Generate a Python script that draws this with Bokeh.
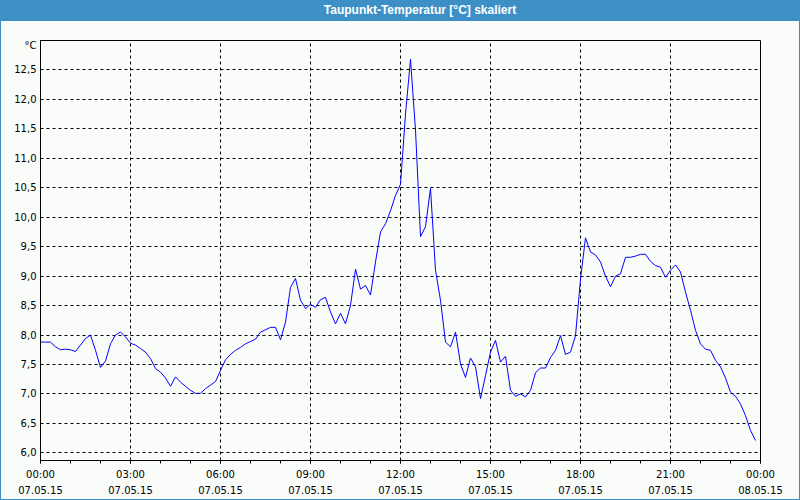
from bokeh.plotting import figure
from bokeh.models import Range1d, FixedTicker, Div, ColumnDataSource
from bokeh.layouts import column
from bokeh.embed import file_html
from bokeh.resources import INLINE

TITLE = "Taupunkt-Temperatur [°C] skaliert"
UNIT_LABEL = "°C"

# sampling: every 10 minutes on 07.05.15
minutes = list(range(0, 1440, 10))

# dew point temperature [°C]
dewpoint = [
    7.88, 7.88, 7.88, 7.80, 7.75, 7.76, 7.75, 7.72, 7.83, 7.94,
    8.00, 7.74, 7.45, 7.56, 7.85, 8.00, 8.05, 7.97, 7.86, 7.83,
    7.77, 7.71, 7.60, 7.43, 7.37, 7.27, 7.13, 7.29, 7.20, 7.13,
    7.06, 7.01, 7.01, 7.09, 7.15, 7.21, 7.40, 7.58, 7.67, 7.74,
    7.79, 7.85, 7.89, 7.93, 8.05, 8.09, 8.13, 8.13, 7.92, 8.22,
    8.81, 8.96, 8.59, 8.45, 8.52, 8.47, 8.60, 8.64, 8.39, 8.19,
    8.37, 8.19, 8.50, 9.12, 8.78, 8.84, 8.68, 9.24, 9.75, 9.89,
    10.11, 10.37, 10.56, 11.75, 12.68, 11.48, 9.67, 9.84, 10.49, 9.10,
    8.59, 7.88, 7.80, 8.05, 7.51, 7.28, 7.61, 7.46, 6.92, 7.31,
    7.71, 7.91, 7.54, 7.64, 7.06, 6.96, 7.00, 6.95, 7.06, 7.36,
    7.44, 7.44, 7.62, 7.74, 7.99, 7.67, 7.71, 7.99, 8.95, 9.65,
    9.41, 9.36, 9.24, 9.00, 8.82, 9.00, 9.04, 9.32, 9.32, 9.34,
    9.37, 9.37, 9.25, 9.18, 9.15, 8.98, 9.10, 9.19, 9.07, 8.73,
    8.42, 8.08, 7.85, 7.76, 7.74, 7.57, 7.46, 7.27, 7.03, 6.96,
    6.83, 6.63, 6.38, 6.21,
]

x_tick_hours = [0, 3, 6, 9, 12, 15, 18, 21, 24]
x_tick_labels = [
    "00:00\n07.05.15", "03:00\n07.05.15", "06:00\n07.05.15",
    "09:00\n07.05.15", "12:00\n07.05.15", "15:00\n07.05.15",
    "18:00\n07.05.15", "21:00\n07.05.15", "00:00\n08.05.15",
]
x_minor_hours = list(range(0, 25))
x_grid_hours = [3, 6, 9, 12, 15, 18, 21]

y_ticks = [6.0, 6.5, 7.0, 7.5, 8.0, 8.5, 9.0, 9.5, 10.0, 10.5, 11.0, 11.5, 12.0, 12.5]
y_tick_labels = ["6,0", "6,5", "7,0", "7,5", "8,0", "8,5", "9,0", "9,5",
                 "10,0", "10,5", "11,0", "11,5", "12,0", "12,5"]
unit_tick = 12.91

BG = "#fafcfa"
BAR = "#3d90c5"

hours = [m / 60 for m in minutes]
src = ColumnDataSource(dict(h=hours, t=dewpoint))

p = figure(
    width=800, height=479,
    x_range=Range1d(0, 24), y_range=Range1d(5.87, 13.0),
    output_backend="svg", toolbar_location=None,
    min_border_left=40, min_border_right=40,
    min_border_top=19, min_border_bottom=40,
    background_fill_color=BG, border_fill_color=BG, border_fill_alpha=0.0,
    outline_line_color="black", outline_line_width=1,
)
p.margin = 0

p.line("h", "t", source=src, line_color="#0000ff", line_width=1)

# x axis
xa = p.xaxis[0]
xa.ticker = FixedTicker(ticks=x_tick_hours, minor_ticks=x_minor_hours)
xa.major_label_overrides = {h: lab for h, lab in zip(x_tick_hours, x_tick_labels)}
xa.major_tick_in = 0
xa.major_tick_out = 3
xa.minor_tick_in = 0
xa.minor_tick_out = 3
xa.major_label_standoff = 5
xa.major_label_text_font = "DejaVu Sans"
xa.major_label_text_font_size = "10px"
xa.major_label_text_line_height = 1.5
xa.major_label_text_color = "black"
xa.axis_line_color = "black"
xa.major_tick_line_color = "black"
xa.minor_tick_line_color = "black"

# y axis
ya = p.yaxis[0]
ya.ticker = FixedTicker(ticks=y_ticks + [unit_tick])
overrides = {v: lab for v, lab in zip(y_ticks, y_tick_labels)}
overrides[unit_tick] = UNIT_LABEL
ya.major_label_overrides = overrides
ya.major_tick_in = 0
ya.major_tick_out = 0
ya.minor_tick_line_color = None
ya.major_label_standoff = 4
ya.major_label_text_font = "DejaVu Sans"
ya.major_label_text_font_size = "10px"
ya.major_label_text_color = "black"
ya.axis_line_color = "black"

# grids
p.xgrid.ticker = FixedTicker(ticks=x_grid_hours)
p.ygrid.ticker = FixedTicker(ticks=y_ticks)
for g in (p.xgrid[0], p.ygrid[0]):
    g.grid_line_color = "black"
    g.grid_line_dash = "3 3"
    g.grid_line_width = 1

title = Div(
    text=TITLE, width=800, height=21, margin=0,
    styles={
        "background-color": BAR,
        "color": "white",
        "font-family": "'Liberation Sans', Arial, sans-serif",
        "font-weight": "bold",
        "font-size": "12px",
        "line-height": "21px",
        "text-align": "center",
        "text-indent": "40px",
    },
)

layout = column(
    title, p, margin=0, spacing=0,
    styles={"background-color": BG, "box-shadow": "inset 0 0 0 1px " + BAR},
)

open("out.html", "w").write(file_html(layout, INLINE))
